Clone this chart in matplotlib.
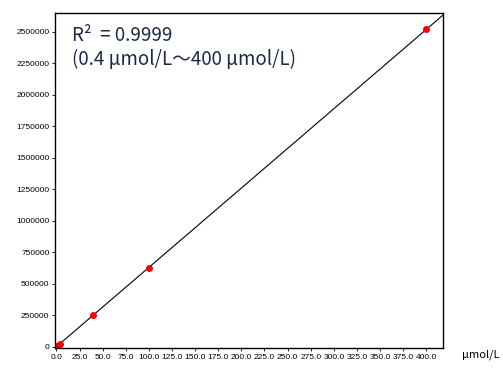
import matplotlib
matplotlib.use("Agg")
import matplotlib.pyplot as plt
import numpy as np

# calibration points (µmol/L vs. response)
conc = [0.4, 1.0, 4.0, 40.0, 100.0, 400.0]
resp = [2500, 6300, 25000, 252000, 622000, 2520000]
slope = 6300.0

xticks = np.arange(0, 401, 25)
yticks = np.arange(0, 2500001, 250000)

plt.rcParams['font.family'] = ['Noto Sans CJK JP', 'DejaVu Sans']

fig = plt.figure(figsize=(5.03, 3.68), dpi=100)
ax = fig.add_axes([55 / 503, 20 / 368, 388 / 503, 335 / 368])

xl = np.array([0, 420])
ax.plot(xl, slope * xl, color="black", lw=0.8)
ax.plot(conc, resp, "o", color="red", ms=4, mec="red")

ax.set_xlim(-1.5, 418)
ax.set_ylim(-10000, 2650000)
ax.set_xticks(xticks)
ax.set_xticklabels([f"{v:.1f}" for v in xticks], fontsize=6, family="Liberation Sans")
ax.set_yticks(yticks)
ax.set_yticklabels([str(v) for v in yticks], fontsize=6, family="Liberation Sans")
ax.tick_params(direction="out", length=2, width=0.6, pad=2)
for s in ax.spines.values():
    s.set_linewidth(1.0)

ax.text(0.045, 0.965, "R²  = 0.9999\n(0.4 µmol/L～400 µmol/L)",
        transform=ax.transAxes, ha="left", va="top", fontsize=13.5,
        color="#1c2a4a", linespacing=1.2)

fig.text(462 / 503, 1 - 355 / 368, "µmol/L", fontsize=8, ha="left", va="center")

fig.savefig("out.png", dpi=100)
